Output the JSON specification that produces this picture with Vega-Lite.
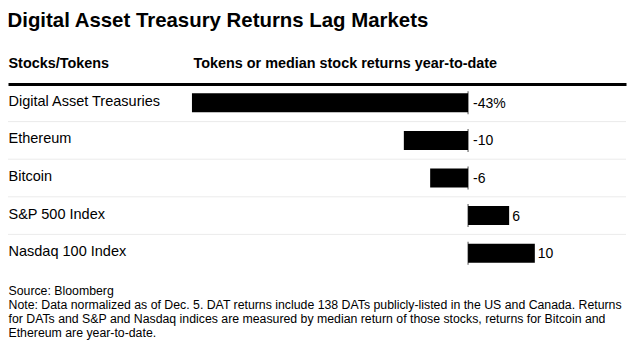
{
  "$schema": "https://vega.github.io/schema/vega-lite/v6.json",
  "autosize": {"type": "none"},
  "padding": {"left": 8, "top": 84, "right": 15, "bottom": 81},
  "width": 618,
  "height": 188,
  "background": "white",
  "title": {
    "text": "Digital Asset Treasury Returns Lag Markets",
    "anchor": "start",
    "font": "Liberation Sans",
    "fontSize": 20.4,
    "fontWeight": "bold",
    "color": "#000000",
    "offset": 24
  },
  "config": {"view": {"stroke": null}},
  "data": {
    "values": [
      {"item": "Digital Asset Treasuries", "value": -43, "label": "-43%"},
      {"item": "Ethereum", "value": -10, "label": "-10"},
      {"item": "Bitcoin", "value": -5.9, "label": "-6"},
      {"item": "S&P 500 Index", "value": 6.4, "label": "6"},
      {"item": "Nasdaq 100 Index", "value": 10.4, "label": "10"}
    ]
  },
  "encoding": {
    "y": {
      "field": "item",
      "type": "nominal",
      "sort": null,
      "scale": {"paddingInner": 0, "paddingOuter": 0},
      "axis": {
        "orient": "left",
        "domain": false,
        "ticks": false,
        "tickSize": 0,
        "grid": false,
        "labelAlign": "left",
        "labelPadding": 0,
        "labelFont": "Liberation Sans",
        "labelFontSize": 14.5,
        "labelColor": "#000000",
        "labelOffset": -1,
        "title": "Stocks/Tokens",
        "titleAngle": 0,
        "titleX": 0,
        "titleY": -17,
        "titleAlign": "left",
        "titleBaseline": "alphabetic",
        "titleFont": "Liberation Sans",
        "titleFontSize": 14.4,
        "titleFontWeight": "bold",
        "titleColor": "#000000"
      }
    }
  },
  "layer": [
    {
      "transform": [{"filter": "datum.item !== 'Nasdaq 100 Index'"}],
      "mark": {"type": "rule", "color": "#ebebeb", "strokeWidth": 1},
      "encoding": {
        "y": {"field": "item", "type": "nominal", "sort": null, "bandPosition": 1}
      }
    },
    {
      "mark": {"type": "bar", "color": "#000000", "size": 19},
      "encoding": {
        "x": {
          "field": "value",
          "type": "quantitative",
          "scale": {"domain": [-71.65, 24.6], "nice": false, "zero": false},
          "axis": {
            "orient": "top",
            "domain": true,
            "domainColor": "#000000",
            "domainWidth": 3,
            "ticks": false,
            "labels": false,
            "grid": false,
            "title": "Tokens or median stock returns year-to-date",
            "titleX": 185,
            "titleY": -17,
            "titleAlign": "left",
            "titleAnchor": "start",
            "titleBaseline": "alphabetic",
            "titleFont": "Liberation Sans",
            "titleFontSize": 14.4,
            "titleFontWeight": "bold",
            "titleColor": "#000000"
          }
        }
      }
    },
    {
      "mark": {"type": "tick", "orient": "vertical", "color": "#000000", "thickness": 1, "size": 23},
      "encoding": {
        "x": {"datum": 0, "type": "quantitative", "axis": null}
      }
    },
    {
      "transform": [{"filter": "datum.value < 0"}],
      "mark": {"type": "text", "align": "left", "baseline": "middle", "dx": 5, "dy": 1, "font": "Liberation Sans", "fontSize": 14, "color": "#000000"},
      "encoding": {
        "x": {"datum": 0, "type": "quantitative", "axis": null},
        "text": {"field": "label"}
      }
    },
    {
      "transform": [{"filter": "datum.value >= 0"}],
      "mark": {"type": "text", "align": "left", "baseline": "middle", "dx": 3, "dy": 1, "font": "Liberation Sans", "fontSize": 14, "color": "#000000"},
      "encoding": {
        "x": {
          "field": "value",
          "type": "quantitative",
          "axis": {
            "orient": "bottom",
            "domain": false,
            "ticks": false,
            "labels": false,
            "grid": false,
            "title": [
              "Source: Bloomberg",
              "Note: Data normalized as of Dec. 5. DAT returns include 138 DATs publicly-listed in the US and Canada. Returns",
              "for DATs and S&P and Nasdaq indices are measured by median return of those stocks, returns for Bitcoin and",
              "Ethereum are year-to-date."
            ],
            "titleX": 0,
            "titleY": 22,
            "titleAlign": "left",
            "titleAnchor": "start",
            "titleBaseline": "alphabetic",
            "titleFont": "Liberation Sans",
            "titleFontSize": 12.3,
            "titleFontWeight": "normal",
            "titleLineHeight": 14,
            "titleColor": "#000000"
          }
        },
        "text": {"field": "label"}
      }
    }
  ],
  "resolve": {"axis": {"x": "independent"}}
}
